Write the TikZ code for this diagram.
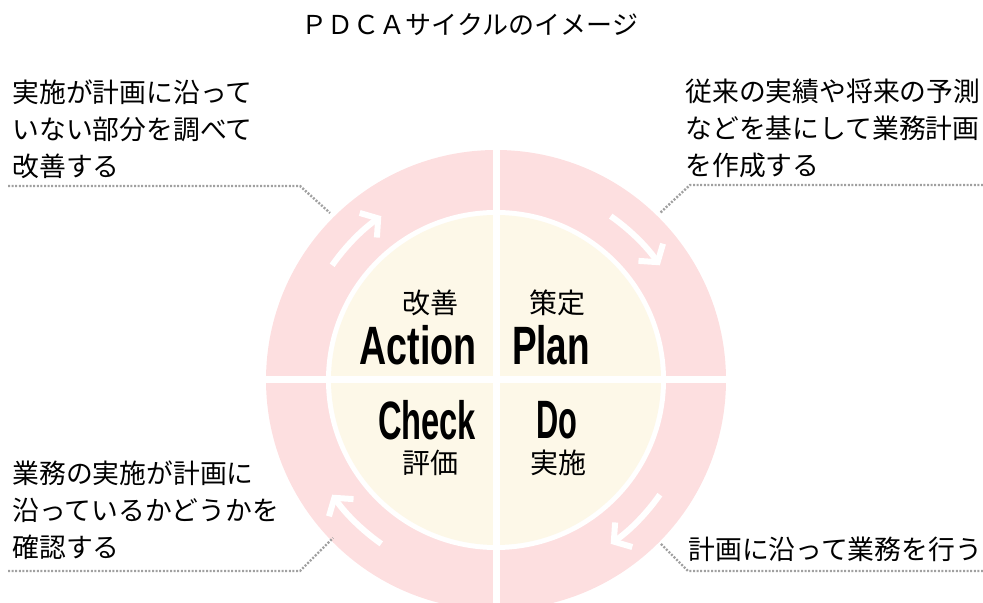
\documentclass[tikz,border=0pt]{standalone}
\usepackage{fontspec}
\usepackage{graphicx}
\setmainfont{Noto Sans CJK JP}
\newfontfamily\pdcafont{Liberation Sans}
\usetikzlibrary{arrows.meta,calc,positioning}
\definecolor{RingPink}{HTML}{FDDFE0}
\definecolor{CoreCream}{HTML}{FDF8E8}
\definecolor{LeadGray}{HTML}{A0A0A0}

\begin{document}
\begin{tikzpicture}[x=0.5pt,y=0.5pt,
    note/.style={align=left,anchor=north west,inner sep=0pt,
      font=\fontsize{13.4pt}{18.5pt}\selectfont},
    jlabel/.style={inner sep=0pt,font=\fontsize{14pt}{16pt}\selectfont},
    elabel/.style={inner sep=0pt,font=\pdcafont\bfseries\fontsize{27pt}{30pt}\selectfont},
    flowarrow/.style={white,line width=3pt,-{Straight Barb[length=6pt,width=15pt]}},
    leader/.style={LeadGray,line width=1.2pt,dash pattern=on 1pt off 0.8pt}
  ]
    \useasboundingbox (0,0) rectangle (983,603);
    \coordinate (c) at (496,223);
    % ring and core
    \fill[RingPink] (c) circle[radius=115pt];
    \fill[white] (c) circle[radius=85pt];
    \fill[CoreCream] (c) circle[radius=82.5pt];
    \draw[white,line width=3.5pt] ($(c)+(0,-240)$) -- ($(c)+(0,240)$);
    \draw[white,line width=3.5pt] ($(c)+(-240,0)$) -- ($(c)+(240,0)$);
    % arrows along the ring
    \draw[flowarrow] ($(c)+(55:100pt)$) arc[start angle=55,end angle=35,radius=100pt];
    \draw[flowarrow] ($(c)+(-35:100pt)$) arc[start angle=-35,end angle=-55,radius=100pt];
    \draw[flowarrow] ($(c)+(235:100pt)$) arc[start angle=235,end angle=215,radius=100pt];
    \draw[flowarrow] ($(c)+(145:100pt)$) arc[start angle=145,end angle=125,radius=100pt];

    \node[font=\fontsize{13pt}{15pt}\selectfont] (title) at (470,578) {ＰＤＣＡサイクルのイメージ};

    \node[jlabel] (act-jp) at (430,300) {改善};
    \node[elabel] (act) at (418,258) {\resizebox{58.5pt}{\height}{Action}};
    \node[jlabel] (plan-jp) at (557,300) {策定};
    \node[elabel] (plan) at (551,258) {\resizebox{39pt}{\height}{Plan}};
    \node[elabel] (check) at (427,183) {\resizebox{49pt}{\height}{Check}};
    \node[jlabel] (check-jp) at (430,140) {評価};
    \node[elabel] (do) at (557,183) {\resizebox{20.5pt}{\height}{Do}};
    \node[jlabel] (do-jp) at (558,140) {実施};

    \node[note] (act-note) at (12,524) {実施が計画に沿って\\いない部分を調べて\\改善する};
    \node[note] (plan-note) at (685,524) {従来の実績や将来の予測\\などを基にして業務計画\\を作成する};
    \node[note] (check-note) at (12,143) {業務の実施が計画に\\沿っているかどうかを\\確認する};
    \node[note] (do-note) at (688,66) {計画に沿って業務を行う};

    % leader lines
    \coordinate (act-a) at (8,417);
    \coordinate (act-b) at (300,417);
    \coordinate (act-e) at (330,390);
    \draw[leader] (act-a) -- (act-b) -- (act-e);
    \coordinate (plan-a) at (983,418);
    \coordinate (plan-b) at (690,418);
    \coordinate (plan-e) at (660,390);
    \draw[leader] (plan-a) -- (plan-b) -- (plan-e);
    \coordinate (check-a) at (8,32);
    \coordinate (check-b) at (300,32);
    \coordinate (check-e) at (333,65);
    \draw[leader] (check-a) -- (check-b) -- (check-e);
    \coordinate (do-a) at (983,32);
    \coordinate (do-b) at (688,32);
    \coordinate (do-e) at (660,60);
    \draw[leader] (do-a) -- (do-b) -- (do-e);
\end{tikzpicture}
\end{document}
